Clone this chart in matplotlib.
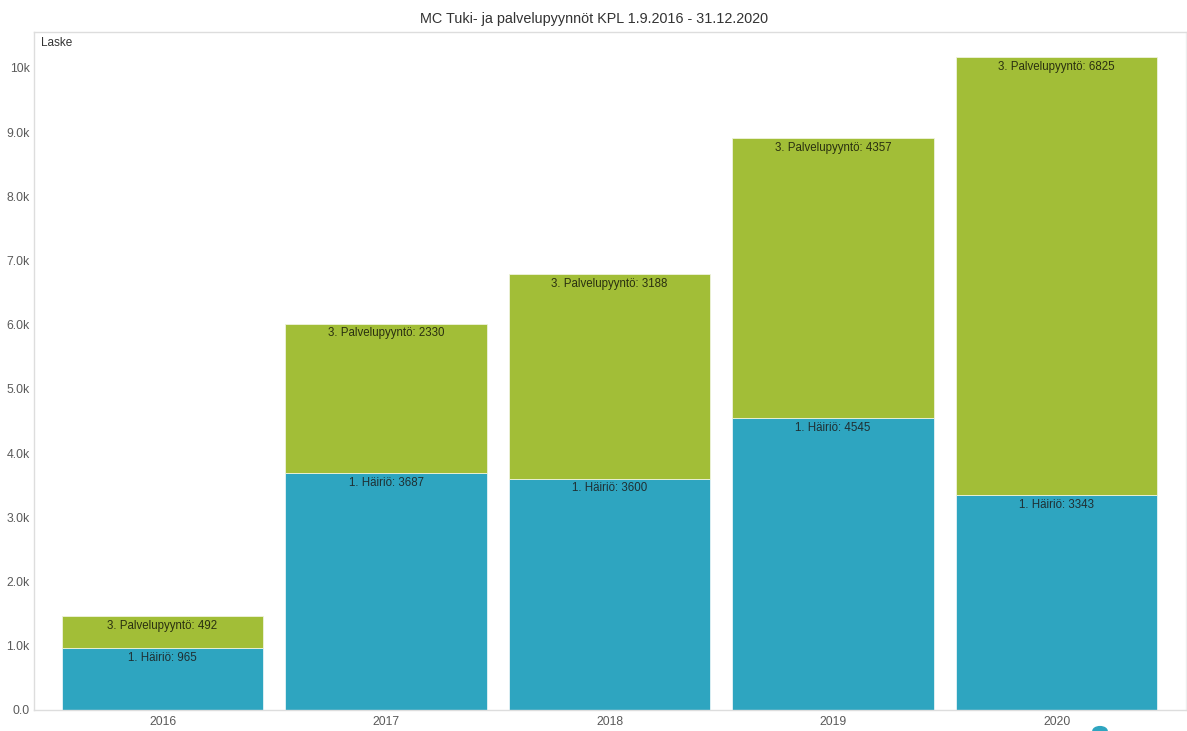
import matplotlib.pyplot as plt
import numpy as np

plt.rcParams['font.family'] = ['Liberation Sans', 'DejaVu Sans']

# Data
years = ['2016', '2017', '2018', '2019', '2020']
hairio = [965, 3687, 3600, 4545, 3343]
palvelupyynto = [492, 2330, 3188, 4357, 6825]

yticks = [0, 1000, 2000, 3000, 4000, 5000, 6000, 7000, 8000, 9000, 10000]
ytick_labels = ['0.0', '1.0k', '2.0k', '3.0k', '4.0k', '5.0k', '6.0k',
                '7.0k', '8.0k', '9.0k', '10k']

blue = '#2ea5c0'
green = '#a2be37'
grey = '#5a5a5a'

fig = plt.figure(figsize=(11.87, 7.31), dpi=100)
ax = fig.add_axes([34 / 1187, 21 / 731, 1152 / 1187, 678 / 731])

ind = np.arange(len(years))
width = 0.9

b1 = ax.bar(ind, hairio, width, color=blue, edgecolor='#e6f3f6', linewidth=0.6)
b2 = ax.bar(ind, palvelupyynto, width, bottom=hairio, color=green,
            edgecolor='#eef3dc', linewidth=0.6)

# Labels at the top of each segment
for i in ind:
    top1 = hairio[i]
    top2 = hairio[i] + palvelupyynto[i]
    ax.annotate('1. Häiriö: %d' % hairio[i], (i, top1), xytext=(0, -2.5),
                textcoords='offset points', ha='center', va='top',
                fontsize=8.3, color='#1f2f33')
    ax.annotate('3. Palvelupyyntö: %d' % palvelupyynto[i], (i, top2),
                xytext=(0, -2.5), textcoords='offset points', ha='center',
                va='top', fontsize=8.3, color='#2a3010')

ax.set_xlim(-0.575, 4.579)
ax.set_ylim(0, 10560)
ax.set_xticks(ind)
ax.set_xticklabels(years)
ax.set_yticks(yticks)
ax.set_yticklabels(ytick_labels)
ax.tick_params(axis='both', length=0, labelsize=8.8, colors=grey, pad=4)
ax.tick_params(axis='y', pad=3)

for s in ax.spines.values():
    s.set_color('#dddddd')
    s.set_linewidth(1.0)
ax.spines['right'].set_color('#eeeeee')

ax.text(0.006, 0.993, 'Laske', transform=ax.transAxes, ha='left', va='top',
        fontsize=8.5, color='#333333')

fig.suptitle('MC Tuki- ja palvelupyynnöt KPL 1.9.2016 - 31.12.2020',
             x=0.5, y=0.984, fontsize=10.4, color='#333333')

# Small icon in the lower right corner
fig.patches.append(plt.Circle((1100 / 1187, 0.0), 0.006, transform=fig.transFigure,
                              color=blue, clip_on=False))

fig.savefig('out.png', dpi=100)
